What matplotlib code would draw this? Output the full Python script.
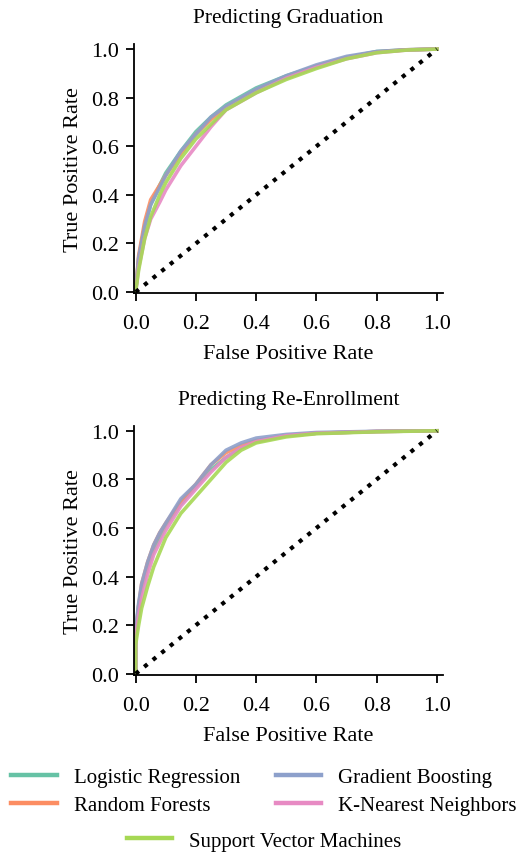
import matplotlib
matplotlib.use("Agg")
import matplotlib.pyplot as plt
from matplotlib.lines import Line2D

plt.rcParams['font.family'] = ['Liberation Serif', 'DejaVu Serif']
plt.rcParams['font.size'] = 16

models = ["Logistic Regression", "Random Forests", "Gradient Boosting",
          "K-Nearest Neighbors", "Support Vector Machines"]
colors = ["#66c2a5", "#fc8d62", "#8da0cb", "#e78ac3", "#a6d854"]

# ROC curves: graduation
fpr_grad = [0, 0.01, 0.03, 0.05, 0.08, 0.1, 0.15, 0.2, 0.25, 0.3, 0.4, 0.5, 0.6, 0.7, 0.8, 0.9, 1.0]
tpr_grad_lr = [0, 0.14, 0.27, 0.36, 0.44, 0.49, 0.58, 0.66, 0.72, 0.77, 0.84, 0.89, 0.93, 0.965, 0.99, 0.997, 1.0]
tpr_grad_rf = [0, 0.15, 0.29, 0.38, 0.44, 0.48, 0.57, 0.65, 0.71, 0.76, 0.83, 0.885, 0.93, 0.965, 0.988, 0.997, 1.0]
tpr_grad_gb = [0, 0.14, 0.27, 0.36, 0.43, 0.48, 0.58, 0.65, 0.72, 0.765, 0.835, 0.89, 0.935, 0.97, 0.99, 0.997, 1.0]
tpr_grad_knn = [0, 0.10, 0.22, 0.30, 0.37, 0.42, 0.52, 0.60, 0.68, 0.75, 0.82, 0.88, 0.925, 0.96, 0.985, 0.996, 1.0]
tpr_grad_svm = [0, 0.09, 0.22, 0.31, 0.40, 0.45, 0.55, 0.63, 0.69, 0.75, 0.82, 0.875, 0.92, 0.96, 0.985, 0.996, 1.0]

# re-enrollment
fpr_enr = [0, 0, 0.01, 0.02, 0.04, 0.06, 0.08, 0.1, 0.15, 0.2, 0.25, 0.3, 0.35, 0.4, 0.5, 0.6, 0.8, 1.0]
tpr_enr_lr = [0, 0.17, 0.28, 0.35, 0.44, 0.51, 0.56, 0.61, 0.70, 0.77, 0.84, 0.89, 0.93, 0.955, 0.98, 0.99, 0.997, 1.0]
tpr_enr_rf = [0, 0.16, 0.28, 0.37, 0.46, 0.53, 0.58, 0.62, 0.71, 0.78, 0.86, 0.91, 0.94, 0.96, 0.98, 0.99, 0.997, 1.0]
tpr_enr_gb = [0, 0.18, 0.29, 0.37, 0.46, 0.53, 0.58, 0.62, 0.72, 0.78, 0.86, 0.92, 0.95, 0.97, 0.985, 0.993, 0.998, 1.0]
tpr_enr_knn = [0, 0.15, 0.24, 0.31, 0.41, 0.49, 0.54, 0.59, 0.69, 0.76, 0.83, 0.89, 0.93, 0.955, 0.98, 0.99, 0.997, 1.0]
tpr_enr_svm = [0, 0.12, 0.20, 0.27, 0.36, 0.44, 0.50, 0.56, 0.66, 0.73, 0.80, 0.87, 0.92, 0.95, 0.975, 0.988, 0.996, 1.0]

panels = [
    ("Predicting Graduation", fpr_grad,
     [tpr_grad_lr, tpr_grad_rf, tpr_grad_gb, tpr_grad_knn, tpr_grad_svm]),
    ("Predicting Re-Enrollment", fpr_enr,
     [tpr_enr_lr, tpr_enr_rf, tpr_enr_gb, tpr_enr_knn, tpr_enr_svm]),
]

fig = plt.figure(figsize=(5.28, 8.53), dpi=100)
boxes = [[0.254, 0.655, 0.585, 0.292], [0.254, 0.2075, 0.585, 0.292]]

for box, (title, fpr, tprs) in zip(boxes, panels):
    ax = fig.add_axes(box)
    for tpr, c in zip(tprs, colors):
        ax.plot(fpr, tpr, color=c, lw=2.6, alpha=0.9)
    ax.plot([0, 1], [0, 1], color="black", linestyle=":", lw=3)
    ax.set_xlim(-0.005, 1.02)
    ax.set_ylim(-0.005, 1.02)
    ax.set_xticks([0, 0.2, 0.4, 0.6, 0.8, 1.0])
    ax.set_yticks([0, 0.2, 0.4, 0.6, 0.8, 1.0])
    ax.set_xlabel("False Positive Rate", labelpad=8)
    ax.set_ylabel("True Positive Rate", labelpad=6)
    ax.set_title(title, fontsize=15.5, pad=16)
    ax.spines['top'].set_visible(False)
    ax.spines['right'].set_visible(False)
    ax.spines['left'].set_linewidth(1.3)
    ax.spines['bottom'].set_linewidth(1.3)
    ax.tick_params(axis="x", direction="out", length=6, width=1.3, pad=9)
    ax.tick_params(axis="y", direction="out", length=6, width=1.3, pad=5)

handles = [Line2D([], [], color=c, lw=3.2) for c in colors]
order = [0, 1, 2, 3]
fig.legend([handles[i] for i in order], [models[i] for i in order], ncol=2,
           loc="center", bbox_to_anchor=(0.5, 0.071), frameon=False, fontsize=15,
           columnspacing=1.7, handlelength=2.2, handletextpad=0.8, labelspacing=0.4)
fig.legend([handles[4]], [models[4]], loc="center", bbox_to_anchor=(0.5, 0.013),
           frameon=False, fontsize=15, handlelength=2.2, handletextpad=0.8)

fig.savefig("out.png", dpi=100)
